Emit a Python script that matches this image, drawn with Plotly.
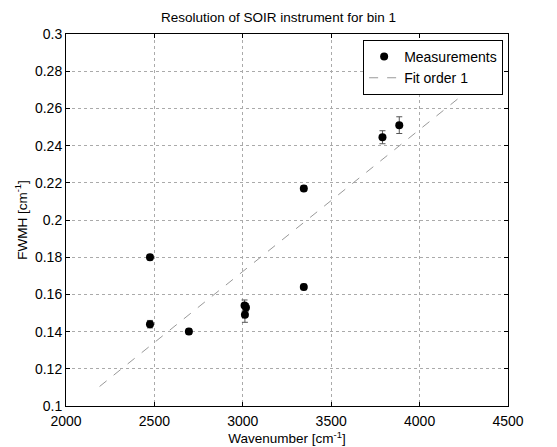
import plotly.graph_objects as go

wavenumber = [2475, 2475, 2695, 3010, 3018, 3012, 3345, 3345, 3790, 3885]
fwhm = [0.180, 0.144, 0.140, 0.154, 0.153, 0.149, 0.217, 0.164, 0.2445, 0.251]
fwhm_err = [0.0015, 0.002, 0.0015, 0.003, 0.002, 0.004, 0.0015, 0.0015, 0.0035, 0.0045]

fit_x = [2190, 4280]
fit_y = [0.1105, 0.270]

font = "Liberation Sans, Arial, sans-serif"

fig = go.Figure()
fig.add_trace(go.Scatter(
    x=wavenumber, y=fwhm, mode="markers", name="Measurements",
    marker=dict(color="black", size=8),
    error_y=dict(type="data", array=fwhm_err, color="#555", thickness=1, width=3),
))
fig.add_trace(go.Scatter(
    x=fit_x, y=fit_y, mode="lines", name="Fit order 1",
    line=dict(color="#999", width=1, dash="dash"),
))

axis_common = dict(
    showline=True, linecolor="black", linewidth=1, mirror="ticks",
    ticks="inside", ticklen=4, tickcolor="black",
    showgrid=True, gridcolor="#aaa", griddash="dot", gridwidth=1,
    zeroline=False, tickfont=dict(family=font, size=14, color="black"),
    automargin=False,
)

fig.update_layout(
    width=557, height=447,
    margin=dict(l=66, r=49, t=34, b=41),
    paper_bgcolor="white", plot_bgcolor="white",
    font=dict(family=font, color="black"),
    title=dict(text="Resolution of SOIR instrument for bin 1", x=0.5, xanchor="center",
               y=0.962, yanchor="middle", font=dict(family=font, size=13.5, color="black")),
    xaxis=dict(range=[2000, 4500], tickvals=[2000, 2500, 3000, 3500, 4000, 4500],
               ticklabelstandoff=2,
               title=dict(text="Wavenumber [cm<sup>-1</sup>]", standoff=0,
                          font=dict(family=font, size=13.5)),
               **axis_common),
    yaxis=dict(range=[0.1, 0.3], dtick=0.02, tickformat="~g",
               title=dict(text="FWMH [cm<sup>-1</sup>]", standoff=4,
                          font=dict(family=font, size=13.5)),
               **axis_common),
    legend=dict(x=0.989, y=0.984, xanchor="right", yanchor="top",
                bgcolor="white", bordercolor="black", borderwidth=1,
                font=dict(family=font, size=14, color="black")),
    showlegend=True,
)

fig.write_html("out.html")
